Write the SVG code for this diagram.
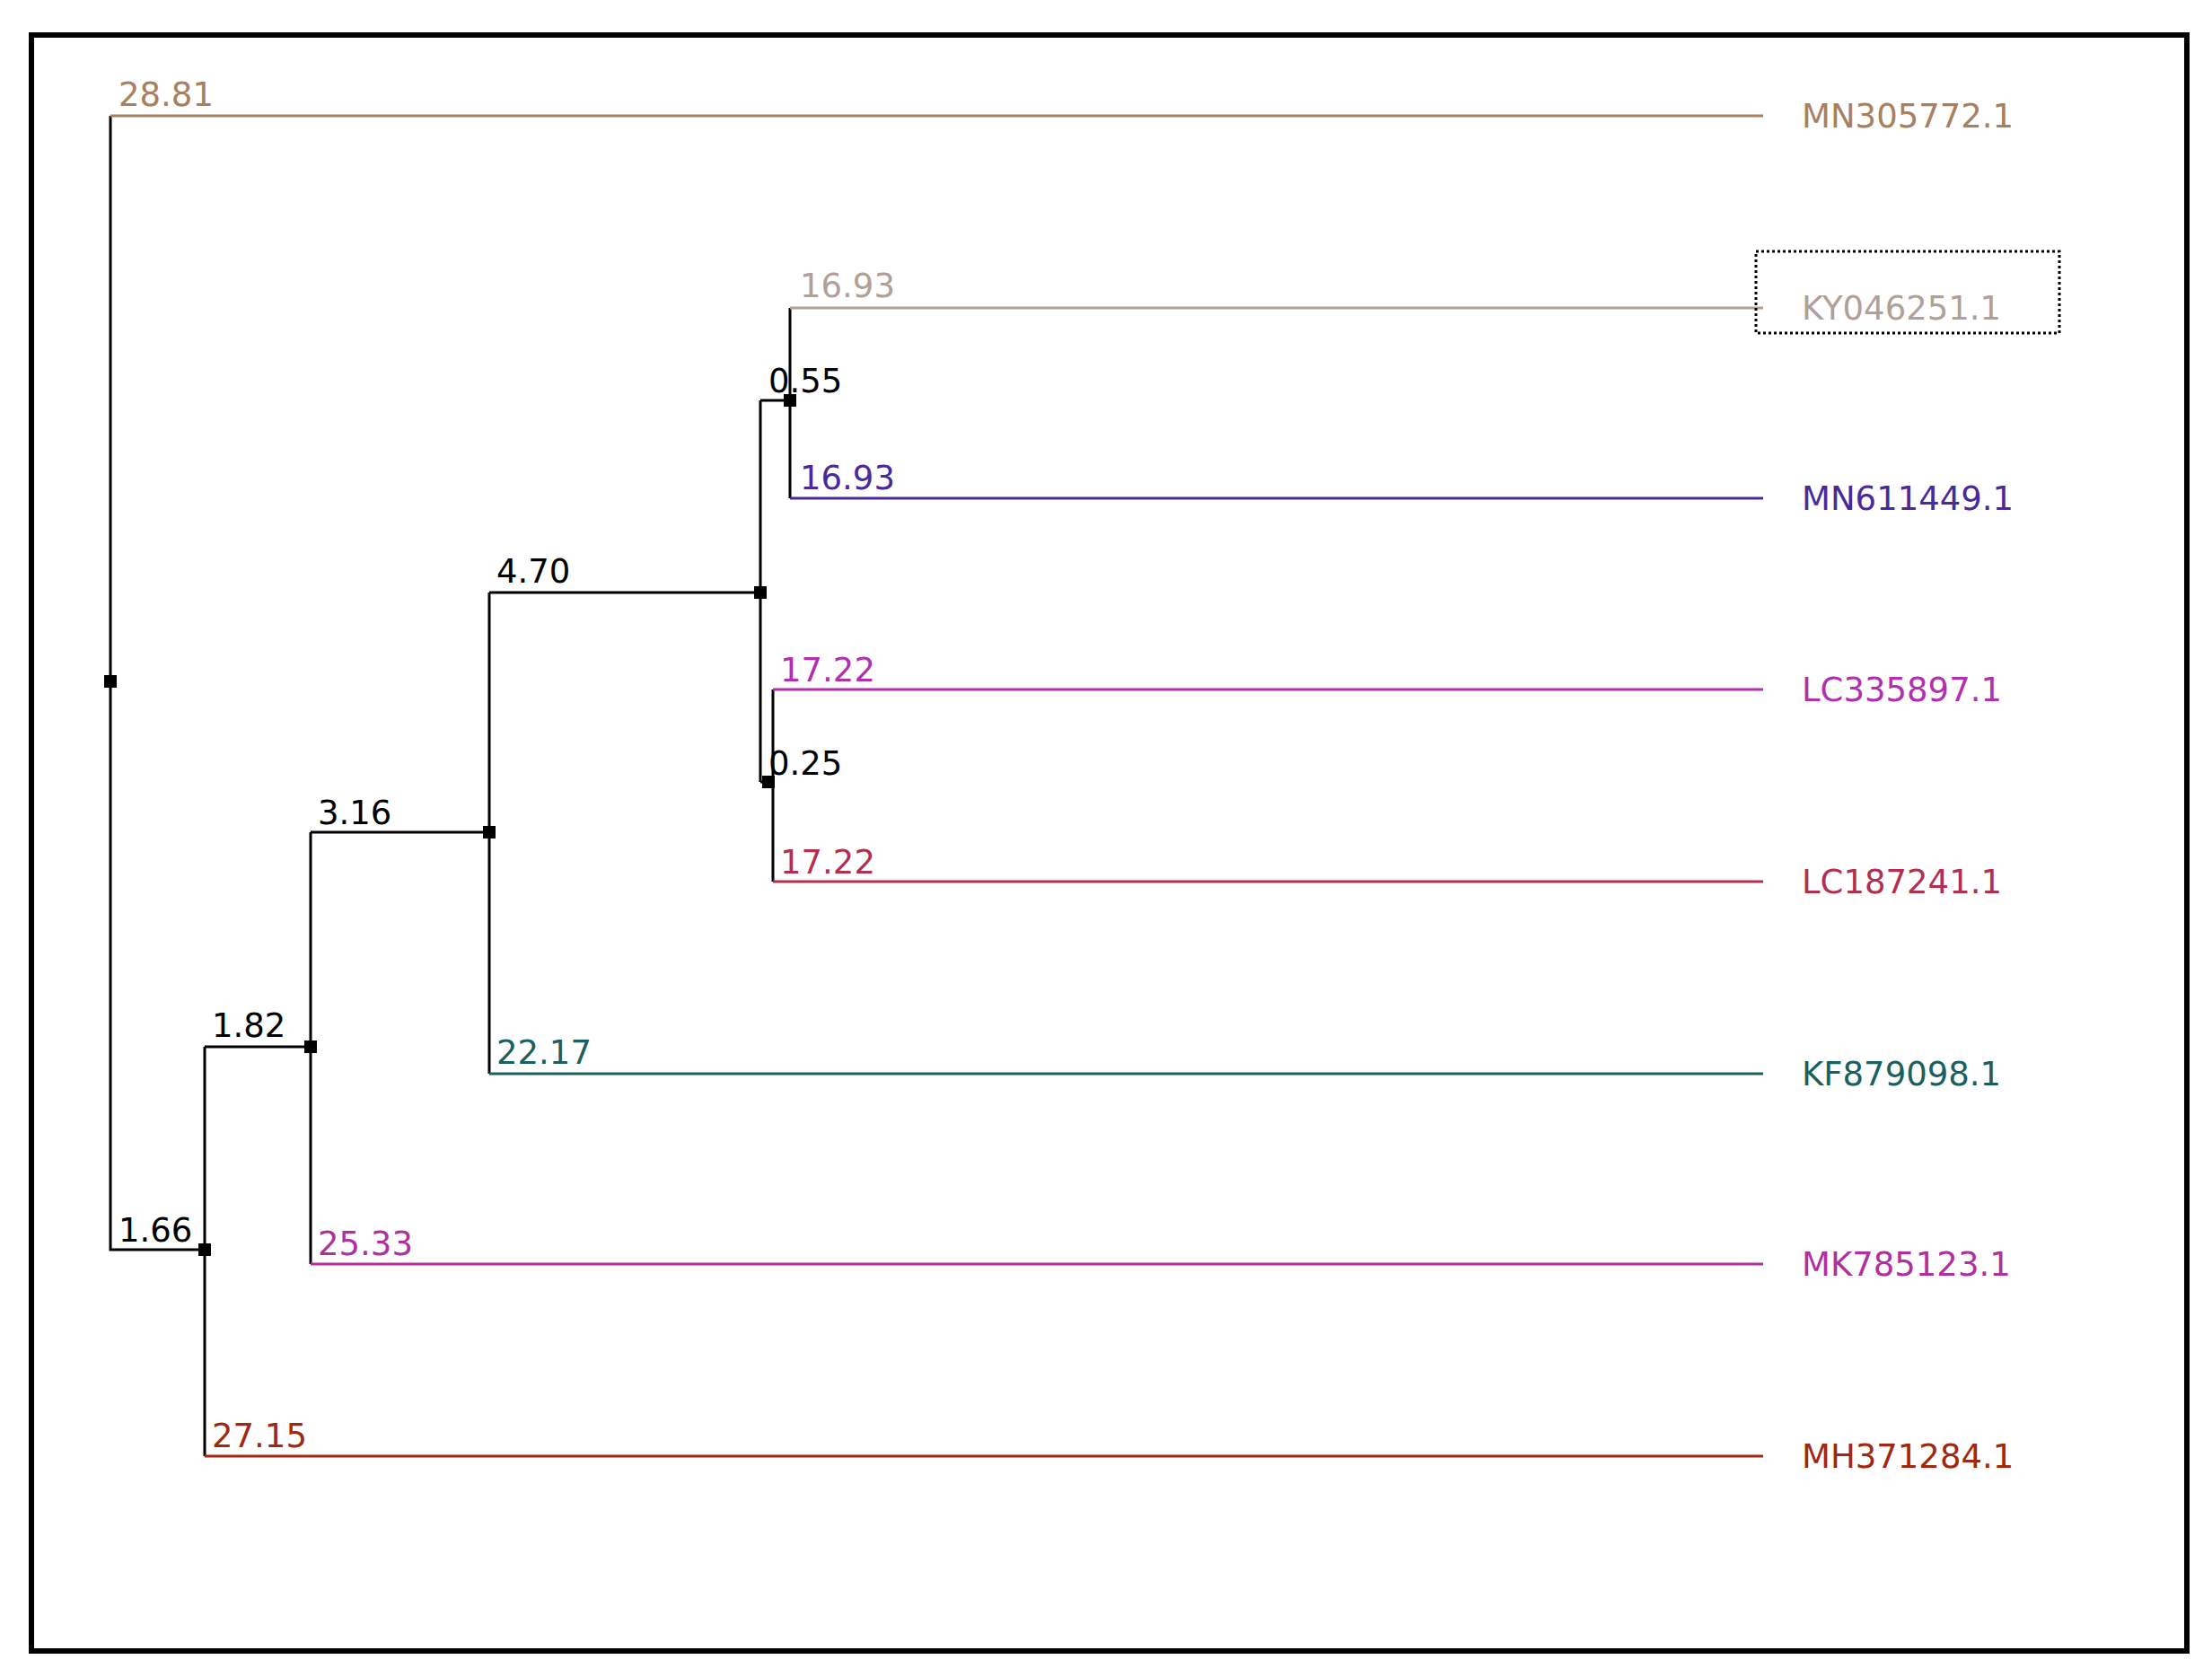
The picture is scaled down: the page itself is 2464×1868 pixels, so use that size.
<svg xmlns="http://www.w3.org/2000/svg" width="2464" height="1868" viewBox="0 0 2464 1868">
<style>
text{font-family:"DejaVu Sans",sans-serif;font-size:37px}
.b{fill:none;stroke:#000;stroke-width:3}
.n{fill:#000}
.l{fill:none;stroke-width:3}
</style>
<rect width="2464" height="1868" fill="#fff"/>
<rect x="35" y="39" width="2401" height="1800" fill="none" stroke="#000" stroke-width="6"/>
<g id="connectors">
<path class="b" d="M123 129V1392H228M228 1166V1622M228 1166H346M346 927V1408M346 927H545M545 660V1196M545 660H847M847 446V871M847 446H880M880 343V555M847 871H861M861 768V982"/>
<path class="l" stroke="#a88060" d="M123 129H1964"/>
<path class="l" stroke="#b0a098" d="M880 343H1964"/>
<path class="l" stroke="#4a2a9a" d="M880 555H1964"/>
<path class="l" stroke="#b030b0" d="M861 768H1964"/>
<path class="l" stroke="#b03050" d="M861 982H1964"/>
<path class="l" stroke="#1a6060" d="M545 1196H1964"/>
<path class="l" stroke="#b030a0" d="M346 1408H1964"/>
<path class="l" stroke="#a02810" d="M228 1622H1964"/>
</g>
<g id="nodes">
<rect class="n" x="116" y="752" width="14" height="14"/>
<rect class="n" x="221" y="1385" width="14" height="14"/>
<rect class="n" x="339" y="1159" width="14" height="14"/>
<rect class="n" x="538" y="920" width="14" height="14"/>
<rect class="n" x="840" y="653" width="14" height="14"/>
<rect class="n" x="873" y="439" width="14" height="14"/>
<rect class="n" x="849" y="864" width="14" height="14"/>
</g>
<g id="branch-labels">
<text x="132" y="118" fill="#a88060">28.81</text>
<text x="891" y="331" fill="#b0a098">16.93</text>
<text x="856" y="437">0.55</text>
<text x="891" y="545" fill="#4a2a9a">16.93</text>
<text x="553" y="649">4.70</text>
<text x="869" y="759" fill="#b030b0">17.22</text>
<text x="856" y="863">0.25</text>
<text x="869" y="973" fill="#b03050">17.22</text>
<text x="354" y="918">3.16</text>
<text x="553" y="1185" fill="#1a6060">22.17</text>
<text x="236" y="1155">1.82</text>
<text x="354" y="1398" fill="#b030a0">25.33</text>
<text x="132" y="1383">1.66</text>
<text x="236" y="1612" fill="#a02810">27.15</text>
</g>
<g id="leaves">
<text x="2007" y="142" fill="#a88060">MN305772.1</text>
<rect x="1956" y="280" width="338" height="91" fill="none" stroke="#000" stroke-width="3" stroke-dasharray="3 3"/>
<text x="2007" y="356" fill="#b0a098">KY046251.1</text>
<text x="2007" y="568" fill="#4a2a9a">MN611449.1</text>
<text x="2007" y="781" fill="#b030b0">LC335897.1</text>
<text x="2007" y="995" fill="#b03050">LC187241.1</text>
<text x="2007" y="1209" fill="#1a6060">KF879098.1</text>
<text x="2007" y="1421" fill="#b030a0">MK785123.1</text>
<text x="2007" y="1635" fill="#a02810">MH371284.1</text>
</g>
</svg>
